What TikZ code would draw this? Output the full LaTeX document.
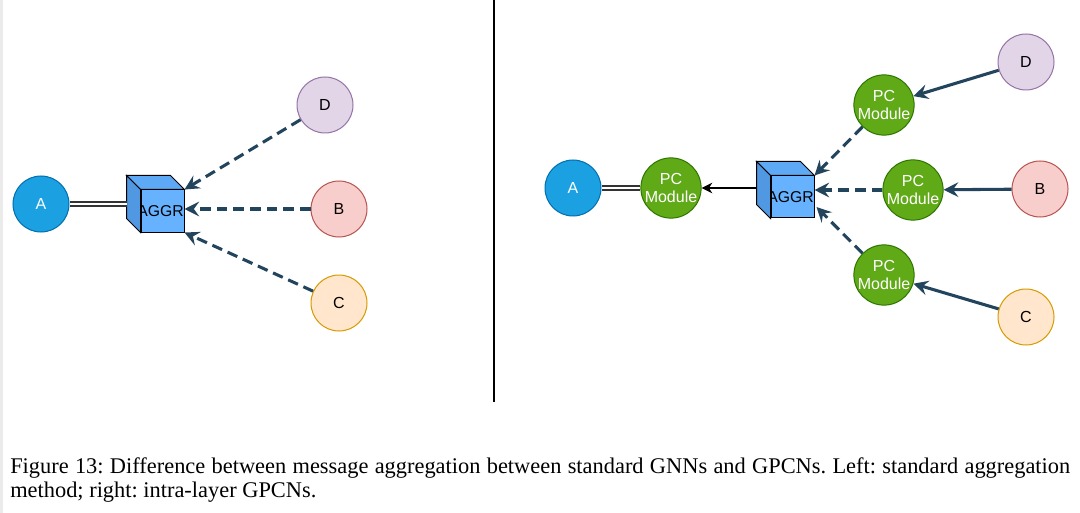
\documentclass[tikz,border=0pt]{standalone}
\usepackage{fontspec}
\setmainfont{Liberation Serif}
\newfontfamily\arialf{Liberation Sans}
\usetikzlibrary{arrows.meta,calc}
\frenchspacing
\definecolor{blueA}{HTML}{1BA1E2}
\definecolor{blueAs}{HTML}{006EAF}
\definecolor{greenP}{HTML}{60A917}
\definecolor{greenPs}{HTML}{2D7600}
\definecolor{purD}{HTML}{E1D5E7}
\definecolor{purDs}{HTML}{9673A6}
\definecolor{redB}{HTML}{F8CECC}
\definecolor{redBs}{HTML}{B85450}
\definecolor{orC}{HTML}{FFE6CC}
\definecolor{orCs}{HTML}{D79B00}
\definecolor{arrc}{HTML}{23445D}
\definecolor{cubefront}{HTML}{66B2FF}
\definecolor{cubetop}{HTML}{5EA9F5}
\definecolor{cubeside}{HTML}{5198E3}
\begin{document}
\begin{tikzpicture}[x=0.75pt,y=-0.75pt,
  circ/.style={circle,minimum size=42pt,inner sep=0pt,line width=0.75pt,
    font=\arialf\fontsize{12}{14}\selectfont,align=center},
  nodeA/.style={circ,fill=blueA,draw=blueAs,text=white},
  pcmod/.style={circ,fill=greenP,draw=greenPs,text=white},
  nodeD/.style={circ,fill=purD,draw=purDs},
  nodeB/.style={circ,fill=redB,draw=redBs},
  nodeC/.style={circ,fill=orC,draw=orCs},
  cubefr/.style={rectangle,draw=black,line width=0.75pt,fill=cubefront,
    minimum width=32.25pt,minimum height=31.5pt,inner sep=0pt,
    font=\arialf\fontsize{11.8}{14}\selectfont},
  cubetopf/.style={draw=black,line width=0.75pt,fill=cubetop},
  cubesidef/.style={draw=black,line width=0.75pt,fill=cubeside},
  darr/.style={draw=arrc,line width=2.3pt,dash pattern=on 8pt off 4.5pt,
    -{Stealth[length=11pt,width=11pt,inset=4pt]}},
  sarr/.style={draw=arrc,line width=2.3pt,
    -{Stealth[length=11pt,width=11pt,inset=4pt]}},
  barr/.style={draw=black,line width=0.8pt,
    -{Stealth[length=8pt,width=8pt,inset=2.5pt]}},
  dline/.style={draw=black!80,line width=0.8pt,double=white,double distance=2.2pt},
  captxt/.style={anchor=base west,inner sep=0pt,font=\fontsize{16.8}{18}\selectfont}
]
\useasboundingbox (0,0) rectangle (1080,513);
\fill[white] (0,0) rectangle (1080,513);
\fill[black!8] (0,0) rectangle (3,513);

% divider
\draw[line width=1.1pt] (494,0) -- (494,402);

% ---------------- left panel ----------------
\node[nodeA] (lA) at (41,204) {A};
\node[nodeD] (lD) at (325,105) {D};
\node[nodeB] (lB) at (339,209) {B};
\node[nodeC] (lC) at (339,303) {C};
\node[cubefr] (lagg) at (162.5,211) {\makebox[0pt]{\hspace*{-3pt}AGGR}};
\draw[cubetopf] (lagg.north west) -- ++(-14,-14) -- ($(lagg.north east)+(-14,-14)$) -- (lagg.north east) -- cycle;
\draw[cubesidef] (lagg.north west) -- ++(-14,-14) -- ($(lagg.south west)+(-14,-14)$) -- (lagg.south west) -- cycle;
\coordinate (lback) at ($(lagg.west)+(-14,0)$);
\draw[dline] (lA.east) -- (lA.east -| lback);
\draw[darr] (lD) -- (lagg.north east);
\draw[darr] (lB) -- (lB -| lagg.east);
\draw[darr] (lC) -- (lagg.south east);

% ---------------- right panel ----------------
\node[nodeA] (rA) at (573,188) {A};
\node[pcmod] (p0) at (671,188) {PC\\Module};
\node[pcmod] (p1) at (884,105) {PC\\Module};
\node[pcmod] (p2) at (913,190) {PC\\Module};
\node[pcmod] (p3) at (884,275) {PC\\Module};
\node[nodeD] (rD) at (1026,62) {D};
\node[nodeB] (rB) at (1040,189) {B};
\node[nodeC] (rC) at (1026,317) {C};
\node[cubefr] (ragg) at (792.5,197) {\makebox[0pt]{\hspace*{-3pt}AGGR}};
\draw[cubetopf] (ragg.north west) -- ++(-14,-14) -- ($(ragg.north east)+(-14,-14)$) -- (ragg.north east) -- cycle;
\draw[cubesidef] (ragg.north west) -- ++(-14,-14) -- ($(ragg.south west)+(-14,-14)$) -- (ragg.south west) -- cycle;
\coordinate (rback) at ($(ragg.west)+(-14,0)$);
\draw[dline] (rA.east) -- (p0.west);
\draw[barr] (p0.east -| rback) -- (p0.east);
\draw[sarr] (rD) -- (p1);
\draw[sarr] (rB) -- (p2);
\draw[sarr] (rC) -- (p3);
\draw[darr] (p1) -- (ragg.north east);
\draw[darr] (p2) -- (p2 -| ragg.east);
\draw[darr] (p3) -- ($(ragg.east)+(2,10)$);

% ---------------- caption ----------------
\node[captxt] (cap1) at (10,473) {\hbox to 795pt{Figure 13: Difference between message aggregation between standard GNNs and GPCNs. Left: standard aggregation}};
\node[captxt] (cap2) at (10,497) {method; right: intra-layer GPCNs.};
\end{tikzpicture}
\end{document}
